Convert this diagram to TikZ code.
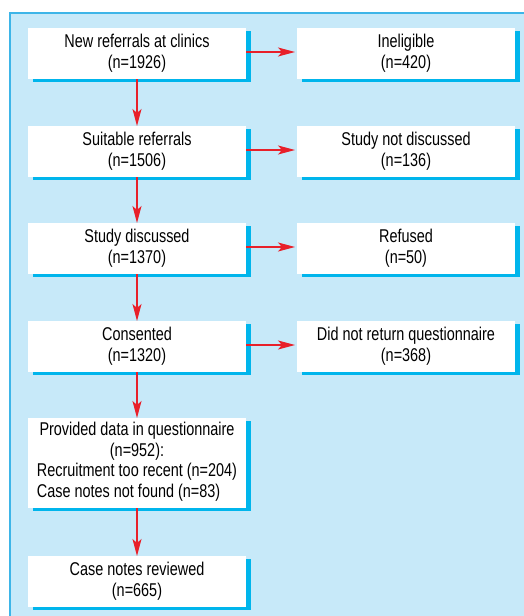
\documentclass[tikz,border=0pt]{standalone}
\usepackage{fontspec}
\setmainfont[FakeStretch=0.78]{Liberation Sans}
\usetikzlibrary{arrows.meta,shadows}

\definecolor{bgblue}{HTML}{C7E9F9}
\definecolor{rimblue}{HTML}{3DB5E8}
\definecolor{shadecyan}{HTML}{00B5EC}
\definecolor{flowred}{HTML}{E8202A}

\begin{document}
\begin{tikzpicture}[x=1pt,y=-1pt]
  \tikzset{>={Stealth[length=17pt,width=9pt,inset=4pt]}}
  \tikzset{flowbox/.style={rectangle,fill=white,minimum width=218pt,inner sep=0pt,outer sep=0pt,align=center,
      font=\fontsize{18.5}{21}\selectfont,
      drop shadow={shadow xshift=4.5pt,shadow yshift=-3pt,fill=shadecyan,opacity=1}}}
  \tikzset{flowarrow/.style={->,draw=flowred,fill=flowred,line width=1.1pt}}

  \useasboundingbox (0,0) rectangle (523,616);
  \fill[white] (0,0) rectangle (523,616);
  \draw[rimblue,fill=bgblue,line width=1.3pt] (10,13) rectangle (540,640);

%%%%%%%%%%%%%%%%%%%%%%%%%%
% LEFT COLUMN
  \node[flowbox,minimum height=51pt] at (137,53.5) (NNewReferrals) {New referrals at clinics\\(n=1926)};
  \node[flowbox,minimum height=51pt] at (137,151.5) (NSuitable) {Suitable referrals\\(n=1506)};
  \node[flowbox,minimum height=51pt] at (137,248.5) (NDiscussed) {Study discussed\\(n=1370)};
  \node[flowbox,minimum height=51pt] at (137,346.5) (NConsented) {Consented\\(n=1320)};
  \node[flowbox,minimum height=90pt] at (137,463) (NProvided) {Provided data in questionnaire\\(n=952):\\
    \begin{tabular}{@{}l@{}}Recruitment too recent (n=204)\\Case notes not found (n=83)\end{tabular}};
  \node[flowbox,minimum height=51pt] at (137,581.5) (NReviewed) {Case notes reviewed\\(n=665)};

%%%%%%%%%%%%%%%%%%%%%%%%%%
% RIGHT COLUMN
  \node[flowbox,minimum height=51pt] at (406,53.5) (NIneligible) {Ineligible\\(n=420)};
  \node[flowbox,minimum height=51pt] at (406,151.5) (NNotDiscussed) {Study not discussed\\(n=136)};
  \node[flowbox,minimum height=51pt] at (406,248.5) (NRefused) {Refused\\(n=50)};
  \node[flowbox,minimum height=51pt] at (406,346.5) (NNoReturn) {Did not return questionnaire\\(n=368)};

%DOWN
  \draw[flowarrow] (NNewReferrals) -- (NSuitable);
  \draw[flowarrow] (NSuitable) -- (NDiscussed);
  \draw[flowarrow] (NDiscussed) -- (NConsented);
  \draw[flowarrow] (NConsented) -- (NProvided);
  \draw[flowarrow] (NProvided) -- (NReviewed);

%ACROSS
  \draw[flowarrow] ([yshift=1.5pt]NNewReferrals.east) -- ([yshift=1.5pt,xshift=-2pt]NIneligible.west);
  \draw[flowarrow] ([yshift=1.5pt]NSuitable.east) -- ([yshift=1.5pt,xshift=-2pt]NNotDiscussed.west);
  \draw[flowarrow] ([yshift=1.5pt]NDiscussed.east) -- ([yshift=1.5pt,xshift=-2pt]NRefused.west);
  \draw[flowarrow] ([yshift=1.5pt]NConsented.east) -- ([yshift=1.5pt,xshift=-2pt]NNoReturn.west);

\end{tikzpicture}
\end{document}
